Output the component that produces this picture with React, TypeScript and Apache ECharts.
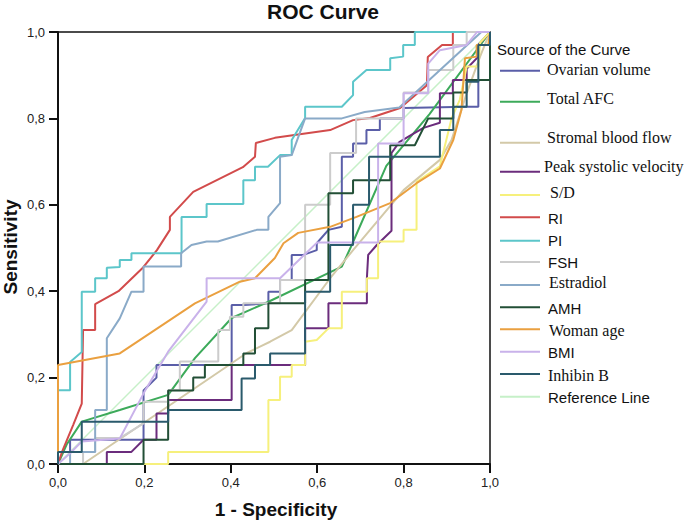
import { useEffect, useRef } from "react";
import * as echarts from "echarts";

// ---------- data ----------
const seriesNames = [
  "Ovarian volume", "Total AFC", "Stromal blood flow", "Peak systolic velocity", "S/D",
  "RI", "PI", "FSH", "Estradiol", "AMH", "Woman age", "BMI", "Inhibin B", "Reference Line",
];

const ovarianVolume = [
  [0, 0], [0, 0.028], [0.028, 0.028], [0.028, 0.056], [0.198, 0.056], [0.198, 0.17], [0.228, 0.2],
  [0.228, 0.229], [0.402, 0.229], [0.402, 0.368], [0.43, 0.368], [0.487, 0.372], [0.487, 0.399],
  [0.514, 0.399], [0.514, 0.426], [0.541, 0.426], [0.541, 0.484], [0.568, 0.484], [0.599, 0.495],
  [0.599, 0.511], [0.626, 0.542], [0.657, 0.549], [0.657, 0.711], [0.683, 0.711], [0.683, 0.742],
  [0.714, 0.742], [0.714, 0.773], [0.745, 0.773], [0.745, 0.8], [0.8, 0.8], [0.8, 0.824],
  [0.946, 0.827], [0.973, 0.827], [0.973, 0.889], [1, 0.889], [1, 1],
];
const totalAFC = [
  [0, 0], [0.02, 0.045], [0.055, 0.098], [0.143, 0.125], [0.255, 0.16], [0.317, 0.245],
  [0.402, 0.338], [0.486, 0.375], [0.657, 0.457], [0.68, 0.507], [0.76, 0.69], [0.86, 0.81], [1, 1],
];
const stromalBloodFlow = [
  [0, 0], [0.058, 0], [0.437, 0.257], [0.491, 0.283], [0.541, 0.31], [0.63, 0.43], [0.683, 0.495],
  [0.8, 0.634], [0.884, 0.704], [0.911, 0.75], [0.946, 0.858], [0.977, 0.943], [1, 1],
];
const peakSystolicVelocity = [
  [0, 0], [0.113, 0], [0.113, 0.028], [0.17, 0.028], [0.198, 0.056], [0.228, 0.056], [0.228, 0.117],
  [0.255, 0.117], [0.255, 0.148], [0.402, 0.148], [0.402, 0.229], [0.572, 0.229], [0.572, 0.314],
  [0.626, 0.314], [0.626, 0.372], [0.715, 0.372], [0.715, 0.43], [0.718, 0.484], [0.738, 0.507],
  [0.772, 0.54], [0.772, 0.72], [0.79, 0.745], [0.815, 0.76], [0.846, 0.778], [0.884, 0.79],
  [0.884, 0.858], [0.914, 0.858], [0.914, 0.889], [0.946, 0.889], [0.946, 0.915], [0.973, 0.943],
  [0.973, 0.97], [1, 1],
];
const sd = [
  [0, 0], [0.198, 0], [0.255, 0], [0.255, 0.028], [0.487, 0.028], [0.487, 0.148], [0.514, 0.148],
  [0.514, 0.202], [0.541, 0.202], [0.541, 0.229], [0.572, 0.229], [0.572, 0.283], [0.599, 0.287],
  [0.626, 0.314], [0.657, 0.314], [0.657, 0.399], [0.715, 0.399], [0.715, 0.43], [0.741, 0.43],
  [0.741, 0.515], [0.8, 0.515], [0.8, 0.542], [0.83, 0.542], [0.83, 0.653], [0.884, 0.689],
  [0.911, 0.8], [0.93, 0.843], [0.946, 0.92], [0.973, 0.92], [0.977, 0.975], [1, 1],
];
const ri = [
  [0, 0], [0.01, 0.03], [0.035, 0.09], [0.055, 0.14], [0.058, 0.31], [0.086, 0.31], [0.086, 0.37],
  [0.14, 0.4], [0.197, 0.455], [0.229, 0.495], [0.259, 0.542], [0.259, 0.572], [0.313, 0.63],
  [0.428, 0.687], [0.456, 0.711], [0.458, 0.743], [0.502, 0.755], [0.63, 0.773], [0.683, 0.796],
  [0.722, 0.801], [0.792, 0.824], [0.854, 0.877], [0.856, 0.942], [0.889, 0.97], [0.914, 0.97],
  [0.914, 1], [1, 1],
];
const pi = [
  [0, 0], [0, 0.171], [0.028, 0.171], [0.028, 0.236], [0.055, 0.259], [0.055, 0.399], [0.086, 0.399],
  [0.086, 0.43], [0.113, 0.43], [0.113, 0.454], [0.143, 0.456], [0.143, 0.472], [0.17, 0.472],
  [0.17, 0.488], [0.286, 0.488], [0.286, 0.572], [0.344, 0.572], [0.344, 0.602], [0.429, 0.602],
  [0.429, 0.657], [0.456, 0.657], [0.456, 0.688], [0.486, 0.688], [0.514, 0.715], [0.541, 0.715],
  [0.541, 0.75], [0.572, 0.801], [0.572, 0.827], [0.657, 0.827], [0.683, 0.854], [0.683, 0.885],
  [0.714, 0.912], [0.769, 0.912], [0.769, 0.939], [0.799, 0.943], [0.799, 0.97], [0.826, 0.97],
  [0.826, 1], [1, 1],
];
const fsh = [
  [0, 0], [0.058, 0], [0.058, 0.028], [0.086, 0.028], [0.086, 0.06], [0.143, 0.06], [0.198, 0.094],
  [0.198, 0.144], [0.255, 0.144], [0.255, 0.171], [0.282, 0.171], [0.282, 0.237], [0.371, 0.237],
  [0.371, 0.31], [0.398, 0.31], [0.398, 0.341], [0.429, 0.341], [0.429, 0.372], [0.514, 0.372],
  [0.514, 0.426], [0.572, 0.426], [0.572, 0.6], [0.63, 0.6], [0.63, 0.72], [0.69, 0.72],
  [0.69, 0.8], [0.8, 0.8], [0.8, 0.86], [0.857, 0.86], [0.857, 0.912], [0.915, 0.912],
  [0.915, 0.97], [0.946, 0.97], [0.946, 1], [1, 1],
];
const estradiol = [
  [0, 0], [0.028, 0], [0.028, 0.028], [0.086, 0.028], [0.086, 0.125], [0.113, 0.125], [0.113, 0.291],
  [0.143, 0.337], [0.17, 0.399], [0.198, 0.399], [0.198, 0.457], [0.285, 0.457], [0.285, 0.488],
  [0.309, 0.507], [0.344, 0.515], [0.37, 0.515], [0.46, 0.542], [0.487, 0.542], [0.487, 0.572],
  [0.514, 0.604], [0.514, 0.711], [0.541, 0.715], [0.572, 0.8], [0.657, 0.8], [0.71, 0.815],
  [0.79, 0.825], [0.98, 1], [1, 1],
];
const amh = [
  [0, 0], [0.198, 0], [0.198, 0.056], [0.255, 0.056], [0.255, 0.17], [0.313, 0.17], [0.313, 0.2],
  [0.34, 0.2], [0.34, 0.229], [0.429, 0.229], [0.429, 0.256], [0.456, 0.256], [0.456, 0.314],
  [0.487, 0.314], [0.487, 0.372], [0.572, 0.372], [0.572, 0.426], [0.626, 0.426], [0.626, 0.627],
  [0.683, 0.627], [0.683, 0.657], [0.769, 0.657], [0.769, 0.738], [0.826, 0.738], [0.857, 0.8],
  [0.915, 0.8], [0.915, 0.86], [0.946, 0.86], [0.946, 0.889], [1, 0.889], [1, 1],
];
const womanAge = [
  [0, 0], [0, 0.229], [0.143, 0.256], [0.317, 0.372], [0.421, 0.422], [0.456, 0.43], [0.502, 0.477],
  [0.522, 0.511], [0.556, 0.535], [0.63, 0.549], [0.691, 0.572], [0.769, 0.604], [0.83, 0.65],
  [0.884, 0.684], [0.915, 0.75], [0.934, 0.82], [0.942, 0.939], [0.969, 0.943], [0.969, 0.97],
  [0.996, 0.97], [1, 1],
];
const bmi = [
  [0, 0], [0.028, 0.025], [0.055, 0.052], [0.143, 0.059], [0.2, 0.167], [0.255, 0.26], [0.344, 0.376],
  [0.344, 0.43], [0.514, 0.43], [0.6, 0.513], [0.741, 0.513], [0.741, 0.742], [0.8, 0.742],
  [0.8, 0.858], [0.857, 0.858], [0.857, 0.927], [0.884, 0.958], [0.946, 0.97], [0.97, 1], [1, 1],
];
const inhibinB = [
  [0, 0], [0, 0.028], [0.055, 0.028], [0.055, 0.098], [0.255, 0.098], [0.255, 0.125], [0.425, 0.125],
  [0.425, 0.198], [0.456, 0.198], [0.456, 0.229], [0.491, 0.229], [0.491, 0.256], [0.572, 0.256],
  [0.572, 0.399], [0.63, 0.399], [0.63, 0.507], [0.683, 0.507], [0.683, 0.6], [0.72, 0.6],
  [0.72, 0.711], [0.884, 0.711], [0.884, 0.773], [0.915, 0.773], [0.915, 0.827], [0.946, 0.827],
  [0.946, 0.885], [0.973, 0.885], [0.973, 0.97], [1, 0.97], [1, 1],
];
const referenceLine = [[0, 0], [1, 1]];

const seriesData = [
  ovarianVolume, totalAFC, stromalBloodFlow, peakSystolicVelocity, sd, ri, pi, fsh,
  estradiol, amh, womanAge, bmi, inhibinB, referenceLine,
];

const xTickValues = [0, 0.2, 0.4, 0.6, 0.8, 1.0];

// ---------- styles ----------
const seriesColors = [
  "#5a5ea8", "#3caa5a", "#d3c9a8", "#6b2c7c", "#f6f07c", "#d24b4b", "#5cc6ca",
  "#cccccc", "#8aaac8", "#224f36", "#eaa040", "#c9b2ea", "#2a5a6c", "#c6f0c8",
];
const SANS = "'Liberation Sans', Arial, sans-serif";
const SERIF = "'Liberation Serif', 'Times New Roman', serif";
// legend layout: [lineY, textY, serif?, textX]
const legendLayout: [number, number, boolean, number][] = [
  [70.7, 69, true, 547], [101.7, 98, true, 547], [142.7, 137, true, 547], [171.7, 166, true, 544],
  [195, 192.5, true, 550], [217.3, 218, false, 548], [240.7, 240, false, 548], [262, 262, false, 548],
  [285, 282, true, 549], [307.3, 308, false, 548], [329.3, 330, true, 549], [351.7, 352, false, 548],
  [374, 375, true, 548], [396.7, 397, false, 548],
];

const fmt = (v: number) => v.toFixed(1).replace(".", ",");

export default function App() {
  const ref = useRef<HTMLDivElement>(null);
  useEffect(() => {
    if (!ref.current) return;
    const chart = echarts.init(ref.current, undefined, { renderer: "svg" });

    const legendGraphics: any[] = [];
    seriesNames.forEach((name, i) => {
      const [ly, ty, serif, tx] = legendLayout[i];
      legendGraphics.push({
        type: "line",
        shape: { x1: 500, y1: ly, x2: 540, y2: ly },
        style: { stroke: seriesColors[i], lineWidth: 2 },
      });
      legendGraphics.push({
        type: "text",
        x: tx,
        y: ty,
        style: {
          text: name,
          fill: "#111",
          font: serif ? `16px ${SERIF}` : `15px ${SANS}`,
          textAlign: "left",
          textVerticalAlign: "middle",
        },
      });
    });

    const option: any = {
      animation: false,
      backgroundColor: "#fff",
      grid: {
        left: 58, top: 32, right: 195, bottom: 60,
        show: true, borderColor: "#111", borderWidth: 1.5, containLabel: false,
        outerBoundsMode: "none",
      },
      xAxis: {
        type: "value", min: 0, max: 1, interval: 0.2,
        axisLine: { show: true, lineStyle: { color: "#111", width: 2 } },
        axisTick: { show: true, length: 9, lineStyle: { color: "#111", width: 2 } },
        axisLabel: { formatter: fmt, color: "#222", fontSize: 13, fontFamily: SANS, margin: 12,
          customValues: xTickValues },
        splitLine: { show: false },
      },
      yAxis: {
        type: "value", min: 0, max: 1, interval: 0.2,
        axisLine: { show: true, lineStyle: { color: "#111", width: 2 } },
        axisTick: { show: true, length: 9, lineStyle: { color: "#111", width: 2 } },
        axisLabel: { formatter: fmt, color: "#222", fontSize: 13, fontFamily: SANS, margin: 13 },
        splitLine: { show: false },
      },
      series: seriesNames.map((name, i) => ({
        name,
        type: "line",
        data: seriesData[i],
        showSymbol: false,
        symbol: "none",
        silent: true,
        z: i === 13 ? 1 : 2,
        lineStyle: { color: seriesColors[i], width: i === 13 ? 1.5 : 2 },
        itemStyle: { color: seriesColors[i] },
      })),
      graphic: [
        {
          type: "text", x: 323, y: 11,
          style: { text: "ROC Curve", font: `bold 21px ${SANS}`, fill: "#111",
            textAlign: "center", textVerticalAlign: "middle" },
        },
        {
          type: "text", x: 10, y: 247, rotation: Math.PI / 2,
          style: { text: "Sensitivity", font: `bold 19px ${SANS}`, fill: "#111",
            textAlign: "center", textVerticalAlign: "middle" },
        },
        {
          type: "text", x: 276, y: 509,
          style: { text: "1 - Specificity", font: `bold 19px ${SANS}`, fill: "#111",
            textAlign: "center", textVerticalAlign: "middle" },
        },
        {
          type: "text", x: 497, y: 49,
          style: { text: "Source of the Curve", font: `15px ${SANS}`, fill: "#111",
            textAlign: "left", textVerticalAlign: "middle" },
        },
        ...legendGraphics,
      ],
    };
    chart.setOption(option);
    return () => chart.dispose();
  }, []);

  return (
    <div
      ref={ref}
      style={{ position: "absolute", left: 0, top: 0, width: 685, height: 524 }}
    />
  );
}
